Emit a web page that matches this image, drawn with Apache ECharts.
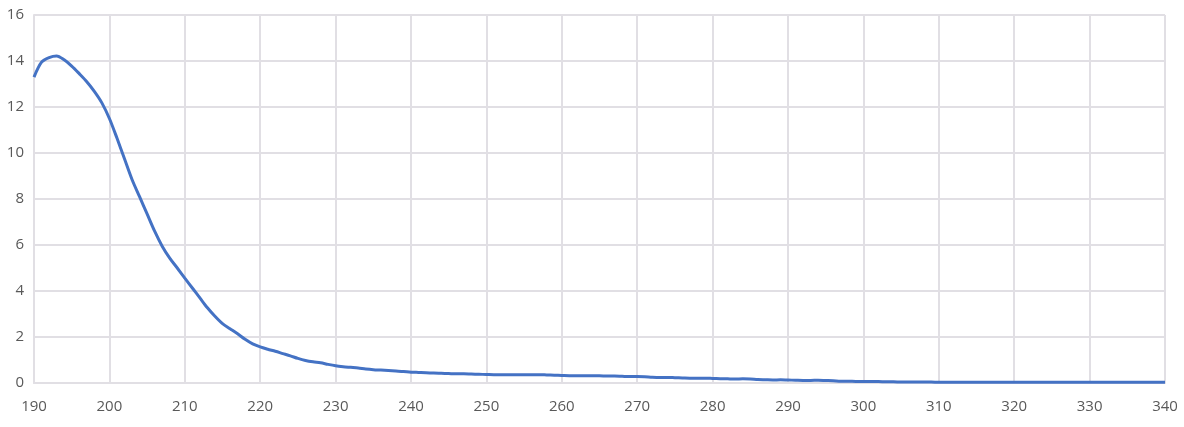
<!DOCTYPE html>
<html>
<head>
<meta charset="utf-8">
<script src="https://cdn.jsdelivr.net/npm/echarts@6/dist/echarts.min.js"></script>
<style>
  html, body { margin: 0; padding: 0; background: #fff; }
  #main { width: 1184px; height: 427px; }
</style>
</head>
<body>
<div id="main"></div>
<script>
// wavelength start / step (nm)
var xStart = 190;
var xStep = 1;

// absorbance readings, 190..340 nm
var values = [
    13.3, 13.95, 14.15, 14.22, 14.05, 13.78, 13.45, 13.1, 12.68, 12.18,   // 190-199
    11.5, 10.65, 9.75, 8.85, 8.1, 7.35, 6.6, 5.95, 5.43, 5.0,            // 200-209
    4.56, 4.13, 3.7, 3.27, 2.9, 2.58, 2.36, 2.14, 1.9, 1.7,             // 210-219
    1.57, 1.47, 1.38, 1.28, 1.18, 1.07, 0.98, 0.92, 0.88, 0.81,          // 220-229
    0.75, 0.71, 0.68, 0.65, 0.61, 0.58, 0.56, 0.54, 0.52, 0.5,           // 230-239
    0.47, 0.46, 0.45, 0.43, 0.42, 0.41, 0.4, 0.4, 0.39, 0.38,            // 240-249
    0.37, 0.36, 0.36, 0.36, 0.36, 0.36, 0.36, 0.36, 0.35, 0.34,          // 250-259
    0.33, 0.32, 0.32, 0.31, 0.31, 0.31, 0.3, 0.3, 0.29, 0.28,            // 260-269
    0.28, 0.27, 0.25, 0.24, 0.24, 0.23, 0.22, 0.21, 0.21, 0.21,          // 270-279
    0.2, 0.19, 0.18, 0.17, 0.18, 0.17, 0.15, 0.14, 0.13, 0.14,           // 280-289
    0.13, 0.12, 0.11, 0.11, 0.12, 0.11, 0.1, 0.08, 0.08, 0.07,           // 290-299
    0.07, 0.06, 0.06, 0.05, 0.05, 0.04, 0.04, 0.04, 0.04, 0.04,          // 300-309
    0.03, 0.03, 0.03, 0.03, 0.03, 0.03, 0.03, 0.03, 0.03, 0.03,          // 310-319
    0.03, 0.03, 0.03, 0.03, 0.03, 0.03, 0.03, 0.03, 0.03, 0.03,          // 320-329
    0.03, 0.03, 0.03, 0.03, 0.03, 0.03, 0.03, 0.03, 0.03, 0.03,          // 330-339
    0.03                                                                  // 340
];

var points = values.map(function (v, i) {
    return [xStart + i * xStep, v];
});

var gridColor = '#e1dfe4';
var labelColor = '#595959';

var myChart = echarts.init(document.getElementById('main'));

myChart.setOption({
    animation: false,
    grid: {
        left: 34,
        right: 19,
        top: 15,
        bottom: 44
    },
    xAxis: {
        type: 'value',
        min: 190,
        max: 340,
        interval: 10,
        axisLine: { lineStyle: { color: gridColor, width: 2 } },
        axisTick: { show: false },
        axisLabel: {
            color: labelColor,
            fontFamily: 'Open Sans',
            fontSize: 15,
            margin: 16
        },
        splitLine: { show: true, lineStyle: { color: gridColor, width: 2 } }
    },
    yAxis: {
        type: 'value',
        min: 0,
        max: 16,
        interval: 2,
        axisLine: { show: true, lineStyle: { color: gridColor, width: 2 } },
        axisTick: { show: false },
        axisLabel: {
            color: labelColor,
            fontFamily: 'Open Sans',
            fontSize: 15,
            margin: 10
        },
        splitLine: { show: true, lineStyle: { color: gridColor, width: 2 } }
    },
    series: [
        {
            type: 'line',
            data: points,
            smooth: 0.3,
            showSymbol: false,
            lineStyle: { color: '#4472c4', width: 3 }
        }
    ]
});
</script>
</body>
</html>
